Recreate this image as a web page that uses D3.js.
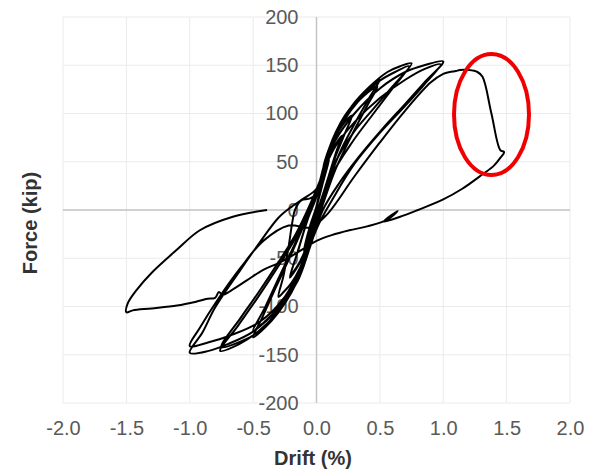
<!DOCTYPE html>
<html lang="en">
<head>
    <meta charset="UTF-8">
    <title>Force vs Drift</title>
    <style>
        body { margin: 0; background: #fff; }
        svg { display: block; font-family: Arial, "Liberation Sans", sans-serif; }
    </style>
</head>
<body>
    <svg width="600" height="472"></svg>
    <script src="https://d3js.org/d3.v7.min.js"></script>
    <script>
        // axis ticks
        const xTicks = [-2, -1.5, -1, -0.5, 0, 0.5, 1, 1.5, 2]
        const xTickLabels = ["-2.0", "-1.5", "-1.0", "-0.5", "0.0", "0.5", "1.0", "1.5", "2.0"]
        const yTicks = [-200, -150, -100, -50, 0, 50, 100, 150, 200]
        const yTickLabels = ["-200", "-150", "-100", "-50", "0", "50", "100", "150", "200"]

        // hysteresis record, [drift %, force kip]
        const cycle01 = [[0,0],[0.03,22],[0.07,42],[0.1,54],[0.06,34],[0.01,8],[-0.04,-20],[-0.08,-38],[-0.1,-44],[-0.06,-24],[-0.01,-2],
            [0.04,26],[0.09,48],[0.1,52],[0.05,28],[-0.02,-8],[-0.07,-32],[-0.1,-42],[-0.05,-16],[0,4]]
        const cycle02 = [[0.05,36],[0.1,56],[0.16,70],[0.2,77],[0.15,58],[0.08,28],[0.01,-4],[-0.06,-30],[-0.12,-52],[-0.18,-65],[-0.21,-70],[-0.16,-48],[-0.1,-22],[-0.04,4],
            [0.04,30],[0.1,55],[0.17,72],[0.2,76],[0.14,52],[0.06,20],[-0.02,-12],[-0.1,-45],[-0.16,-60],[-0.2,-66],[-0.14,-40],[-0.07,-10],[0,14]]
        const cycle03 = [[0.05,42],[0.1,62],[0.15,76],[0.2,87],[0.25,95],[0.28,98],[0.22,78],[0.14,52],[0.06,20],[0,-8],[-0.06,-34],[-0.13,-60],[-0.2,-76],[-0.26,-85],[-0.3,-90],
            [-0.26,-68],[-0.22,-38],[-0.19,-12],[-0.17,0],[-0.12,10],[-0.05,12],[0.02,20]]
        const cycle05a = [[0.06,48],[0.1,64],[0.15,80],[0.22,97],[0.3,111],[0.4,125],[0.46,131],[0.5,135],[0.42,117],[0.32,94],[0.2,64],[0.1,32],[0.02,2],
            [-0.06,-36],[-0.12,-62],[-0.2,-86],[-0.3,-106],[-0.4,-121],[-0.5,-132],[-0.43,-112],[-0.32,-80],[-0.2,-46],[-0.1,-16],[-0.02,8]]
        const cycle05b = [[0.06,46],[0.14,76],[0.25,100],[0.37,118],[0.48,128],[0.4,108],[0.28,78],[0.15,42],[0.04,2],
            [-0.08,-44],[-0.18,-77],[-0.3,-101],[-0.42,-117],[-0.5,-125],[-0.41,-102],[-0.29,-68],[-0.16,-32],[-0.05,2]]
        const cycle075a = [[0.02,20],[0.07,50],[0.16,82],[0.28,108],[0.42,128],[0.56,143],[0.66,149],[0.75,152],[0.6,128],[0.45,105],[0.29,80],[0.15,50],[0.05,16],[-0.02,-14],
            [-0.09,-48],[-0.19,-82],[-0.31,-106],[-0.46,-126],[-0.61,-139],[-0.76,-146],[-0.62,-120],[-0.46,-90],[-0.3,-58],[-0.17,-30],[-0.07,-4],[0,14]]
        const cycle075b = [[0.08,54],[0.2,89],[0.35,116],[0.5,134],[0.62,143],[0.73,149],[0.6,126],[0.45,100],[0.28,70],[0.12,36],[0.02,0],
            [-0.08,-44],[-0.2,-84],[-0.35,-112],[-0.5,-130],[-0.63,-138],[-0.75,-142],[-0.6,-112],[-0.45,-84],[-0.3,-54],[-0.16,-24],[-0.05,6]]
        const cycle10a = [[0.05,38],[0.14,70],[0.3,100],[0.5,126],[0.7,143],[0.85,150],[1.0,154],[0.85,132],[0.7,110],[0.52,84],[0.34,56],[0.18,28],[0.05,0],
            [-0.05,-38],[-0.15,-74],[-0.3,-102],[-0.5,-126],[-0.7,-139],[-0.85,-146],[-1.0,-148],[-0.9,-127],[-0.8,-101],[-0.6,-62],[-0.45,-34],[-0.3,-8],[-0.2,3],[-0.1,12],[0,22]]
        const cycle10b = [[0.06,42],[0.15,66],[0.3,91],[0.5,116],[0.7,135],[0.85,146],[0.98,151],[0.85,130],[0.7,108],[0.5,80],[0.3,48],[0.13,12],[0.02,-14],
            [-0.1,-52],[-0.25,-90],[-0.45,-116],[-0.68,-130],[-0.85,-137],[-1.0,-141],[-0.92,-122],[-0.78,-93],[-0.6,-60],[-0.42,-32],[-0.22,-16],[-0.05,-18]]
        const cycle15 = [[0.08,-5],[0.3,35],[0.5,70],[0.7,103],[0.9,132],[1.0,141],[1.05,143],[1.1,144],[1.13,145],[1.2,145],[1.27,143],[1.31,138],[1.38,100],[1.45,62],[1.48,60],
            [1.45,54],[1.4,46],[1.31,37],[1.15,22],[1.0,11],[0.8,0],[0.66,-7],[0.53,-12],[0.64,-1],[0.56,-10],[0.4,-17],[0.26,-21],[0.12,-26],[0,-32],
            [-0.1,-40],[-0.2,-48],[-0.3,-55],[-0.42,-62],[-0.55,-73],[-0.68,-84],[-0.74,-88],[-0.77,-85],[-0.8,-91],[-0.86,-92],[-0.95,-95],[-1.1,-99],[-1.3,-102],[-1.45,-104],[-1.5,-106],
            [-1.49,-97],[-1.42,-83],[-1.3,-65],[-1.1,-41],[-0.92,-21],[-0.66,-7],[-0.39,0]]

        const record = [].concat(cycle01, cycle02, cycle03, cycle05a, cycle05b, cycle075a, cycle075b, cycle10a, cycle10b, cycle15)

        const svg = d3.select('svg')
        const x = d3.scaleLinear().domain([-2, 2]).range([63, 570])
        const y = d3.scaleLinear().domain([-200, 200]).range([403, 17])

        // grid
        svg.append('g')
            .selectAll('line')
            .data(xTicks).enter()
            .append('line')
                .attr('x1', d => x(d)).attr('x2', d => x(d))
                .attr('y1', y(200)).attr('y2', y(-200))
                .attr('stroke', '#ebebeb').attr('stroke-width', 1)
        svg.append('g')
            .selectAll('line')
            .data(yTicks).enter()
            .append('line')
                .attr('y1', d => y(d)).attr('y2', d => y(d))
                .attr('x1', x(-2)).attr('x2', x(2))
                .attr('stroke', '#ebebeb').attr('stroke-width', 1)

        // zero lines
        svg.append('line')
            .attr('x1', x(-2)).attr('x2', x(2)).attr('y1', y(0)).attr('y2', y(0))
            .attr('stroke', '#c4c4c4').attr('stroke-width', 1.5)
        svg.append('line')
            .attr('x1', x(0)).attr('x2', x(0)).attr('y1', y(200)).attr('y2', y(-200))
            .attr('stroke', '#c4c4c4').attr('stroke-width', 1.5)

        // tick labels (y labels sit on the zero line, under the curve)
        const yAxis = svg.append('g')
            .attr('transform', `translate(${x(0)},0)`)
            .call(d3.axisLeft(y).tickValues(yTicks).tickSize(0).tickPadding(18)
                .tickFormat((d, i) => yTickLabels[i]))
        const xAxis = svg.append('g')
            .attr('transform', `translate(0,${y(-200)})`)
            .call(d3.axisBottom(x).tickValues(xTicks).tickSize(0).tickPadding(18)
                .tickFormat((d, i) => xTickLabels[i]))
        ;[xAxis, yAxis].forEach(g => {
            g.select('.domain').remove()
            g.selectAll('text')
                .attr('font-family', 'Arial, "Liberation Sans", sans-serif')
                .attr('font-size', 20)
                .attr('fill', '#595959')
        })

        // curve
        const line = d3.line()
            .x(d => x(d[0]))
            .y(d => y(d[1]))
            .curve(d3.curveCatmullRom.alpha(0.5))
        svg.append('path')
            .datum(record)
            .attr('d', line)
            .attr('fill', 'none')
            .attr('stroke', '#000')
            .attr('stroke-width', 2)
            .attr('stroke-linejoin', 'round')

        // axis titles
        svg.append('text')
            .attr('x', 313).attr('y', 465)
            .attr('text-anchor', 'middle')
            .attr('font-size', 20).attr('font-weight', 'bold')
            .attr('fill', '#333')
            .text('Drift (%)')
        svg.append('text')
            .attr('transform', 'translate(37,223) rotate(-90)')
            .attr('text-anchor', 'middle')
            .attr('font-size', 20).attr('font-weight', 'bold')
            .attr('fill', '#333')
            .text('Force (kip)')

        // red mark around the strength drop
        svg.append('ellipse')
            .attr('cx', 491.5).attr('cy', 114.5)
            .attr('rx', 37.5).attr('ry', 60.5)
            .attr('fill', 'none')
            .attr('stroke', '#f00000')
            .attr('stroke-width', 4)
    </script>
</body>
</html>
